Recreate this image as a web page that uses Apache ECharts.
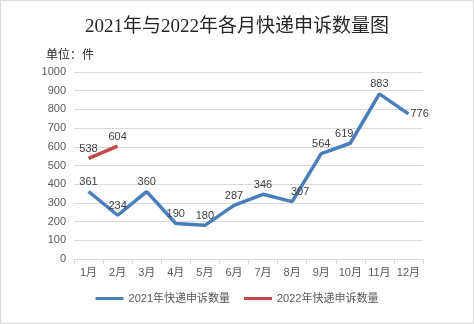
<!DOCTYPE html>
<html>
<head>
<meta charset="utf-8">
<script src="https://cdn.jsdelivr.net/npm/echarts@6/dist/echarts.min.js"></script>
<style>
  html, body { margin: 0; padding: 0; background: #fff; }
  #chart { width: 472px; height: 322px; border: 1px solid #d9d9d9; }
</style>
</head>
<body>
<div id="chart"></div>
<script>
// Monthly express-delivery complaint counts
const months = ['1月', '2月', '3月', '4月', '5月', '6月', '7月', '8月', '9月', '10月', '11月', '12月'];
const complaints2021 = [361, 234, 360, 190, 180, 287, 346, 307, 564, 619, 883, 776];
const complaints2022 = [538, 604];
const yTicks = { min: 0, max: 1000, interval: 100 };

// per-point label tweaks so numbers don't sit on the line
const labelTweaks2021 = {
  7: { offset: [8, 0] },
  9: { offset: [-6, 0] },
  11: { position: 'right', distance: 2 }
};

const chart = echarts.init(document.getElementById('chart'));
const labelStyle = { show: true, position: 'top', color: '#404040', fontSize: 11, fontFamily: 'Liberation Sans, Arial', distance: 4 };

chart.setOption({
  animation: false,
  title: {
    text: '2021年与2022年各月快递申诉数量图',
    left: 'center',
    top: 12,
    textStyle: { fontSize: 19, fontWeight: 'normal', color: '#262626', fontFamily: 'Liberation Serif, Noto Sans CJK SC, serif' }
  },
  graphic: [{
    type: 'text',
    left: 45,
    top: 47,
    style: { text: '单位：件', fontSize: 12, fill: '#262626', fontFamily: 'Noto Sans CJK SC' }
  }],
  legend: {
    bottom: 14,
    left: 'center',
    itemWidth: 28,
    itemHeight: 3,
    itemGap: 14,
    icon: 'rect',
    textStyle: { color: '#595959', fontSize: 11, fontFamily: 'Liberation Sans, Noto Sans CJK SC' }
  },
  grid: { left: 73, right: 50, top: 71, bottom: 64 },
  xAxis: {
    type: 'category',
    data: months,
    boundaryGap: true,
    axisLine: { lineStyle: { color: '#d9d9d9' } },
    axisTick: { show: true, length: 5, lineStyle: { color: '#d9d9d9' } },
    axisLabel: { interval: 0, color: '#595959', fontSize: 11, margin: 8, fontFamily: 'Liberation Sans, Noto Sans CJK SC' }
  },
  yAxis: {
    type: 'value',
    min: yTicks.min,
    max: yTicks.max,
    interval: yTicks.interval,
    axisLine: { show: false },
    axisTick: { show: false },
    splitLine: { lineStyle: { color: '#d9d9d9' } },
    axisLabel: { formatter: v => String(v), color: '#595959', fontSize: 11, margin: 8, fontFamily: 'Liberation Sans, Arial' }
  },
  series: [
    {
      name: '2021年快递申诉数量',
      type: 'line',
      data: complaints2021.map((v, i) => labelTweaks2021[i] ? { value: v, label: labelTweaks2021[i] } : v),
      symbol: 'circle',
      symbolSize: 0,
      showSymbol: true,
      lineStyle: { width: 3.5, color: '#4a7ebb' },
      itemStyle: { color: '#4a7ebb' },
      label: labelStyle
    },
    {
      name: '2022年快递申诉数量',
      type: 'line',
      data: complaints2022,
      symbol: 'circle',
      symbolSize: 0,
      showSymbol: true,
      lineStyle: { width: 3.5, color: '#be4b48' },
      itemStyle: { color: '#be4b48' },
      label: labelStyle
    }
  ]
});
</script>
</body>
</html>
